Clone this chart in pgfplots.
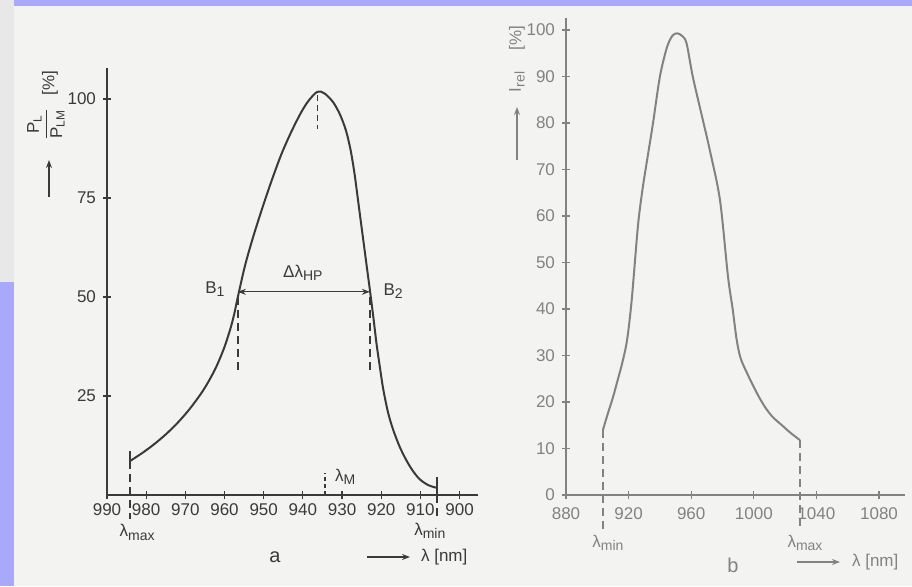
\documentclass[border=0pt]{standalone}
\usepackage{fontspec}
\setmainfont{Liberation Sans}
\usepackage{amsmath}
\usepackage{pgfplots}
\pgfplotsset{compat=1.18}
\usetikzlibrary{arrows.meta}
\definecolor{bg}{HTML}{F3F3F1}
\definecolor{lav}{HTML}{A9A9FC}
\definecolor{inkA}{HTML}{3A3A3A}
\definecolor{inkB}{HTML}{828282}
\newcommand{\tf}{\fontsize{8.5}{10}\selectfont}
\newcommand{\sub}[1]{\raisebox{-0.4ex}{\fontsize{7}{8}\selectfont #1}}
\begin{document}
\begin{tikzpicture}[font=\tf]
\begin{scope}[x=0.5pt,y=-0.5pt]
\path[use as bounding box, fill=bg] (0,0) rectangle (912,586);
\fill[lav] (14,0) rectangle (912,6);
\fill[black!9] (0,0) rectangle (14,282);
\fill[lav] (0,282) rectangle (14,586);
\end{scope}

% ---------------- chart a ----------------
\begin{axis}[
  at={(53.5pt,-247.5pt)}, anchor=south west,
  scale only axis, width=185.5pt, height=213.5pt,
  xmin=-990, xmax=-895.3, ymin=0, ymax=107.8,
  axis x line*=bottom, axis y line*=left,
  xtick={-990,-980,-970,-960,-950,-940,-930,-920,-910,-900},
  xticklabels={990,980,970,960,950,940,930,920,910,900},
  ytick={25,50,75,100},
  tick align=center, major tick length=4pt,
  axis line style={inkA, line width=0.7pt},
  tick style={inkA, line width=0.6pt},
  ticklabel style={inkA, font=\tf},
  xticklabel style={yshift=1pt},
  /pgf/number format/assume math mode=true,
  clip=false,
]
\addplot[inkA, line width=1pt, smooth, tension=0.5] table[x expr=-\thisrow{lam}, y=val] {
lam val
984.1 8.6
981 10.6
978 12.8
975 15.3
972 18.2
969 21.6
966 25.6
964 28.8
962 32.6
960 37.4
958.5 42.0
957.5 45.8
956.6 50.0
954.8 57.8
952.8 64.8
950.5 72.0
948 79.3
945.5 86.0
943 91.6
940.5 96.5
938.5 99.6
936.3 101.8
934.5 101.4
932.3 99.2
930.5 96
929 92
927.8 87
926.8 81
925.8 73.5
924.8 66
923.8 58.5
922.9 51.8
922.0 44.8
921.2 38.2
920.3 32.0
919.5 26.8
918.3 21.0
917.0 16.6
915.3 12.2
913.6 8.8
912 6.2
910.2 4.0
908 2.5
905.8 1.8
};
% end ticks of the curve
\addplot[inkA, line width=0.9pt] table[x expr=-\thisrow{lam}, y=val] {
lam val
984.1 8.6
984.1 11.2
};
\addplot[inkA, line width=0.9pt] table[x expr=-\thisrow{lam}, y=val] {
lam val
905.8 0
905.8 4.5
};
% dashed markers
\addplot[inkA, line width=0.7pt, dash pattern=on 4pt off 2.5pt] table[x expr=-\thisrow{lam}, y=val] {
lam val
984.1 8.6
984.1 -6
};
\addplot[inkA, line width=0.7pt, dash pattern=on 4pt off 2.5pt] table[x expr=-\thisrow{lam}, y=val] {
lam val
905.8 0
905.8 -6.5
};
\addplot[inkA, line width=0.7pt, dash pattern=on 4pt off 2.5pt] table[x expr=-\thisrow{lam}, y=val] {
lam val
956.6 50
956.6 31.5
};
\addplot[inkA, line width=0.7pt, dash pattern=on 4pt off 2.5pt] table[x expr=-\thisrow{lam}, y=val] {
lam val
922.9 50
922.9 31
};
\addplot[inkA, line width=0.7pt, dash pattern=on 3pt off 2pt] table[x expr=-\thisrow{lam}, y=val] {
lam val
936.3 101
936.3 92.5
};
\addplot[inkA, line width=0.7pt, dash pattern=on 2pt off 1.5pt] table[x expr=-\thisrow{lam}, y=val] {
lam val
934.4 0
934.4 5.5
};
\draw[inkA, line width=0.6pt, {Stealth[length=4pt,width=3pt]}-{Stealth[length=4pt,width=3pt]}]
  (axis cs:-956.6,51.3) -- (axis cs:-922.9,51.3);
\node[inkA, anchor=south] at (axis cs:-940,52.3) {Δλ\sub{HP}};
\node[inkA, anchor=east] at (axis cs:-958.2,52) {B\sub{1}};
\node[inkA, anchor=west] at (axis cs:-921.2,51.5) {B\sub{2}};
\node[inkA, anchor=west] at (axis cs:-933.6,4.6) {λ\sub{M}};
\node[inkA] at (axis cs:-982.3,-9.4) {λ\sub{max}};
\node[inkA] at (axis cs:-907.6,-9.0) {λ\sub{min}};
\end{axis}

% ---------------- chart b ----------------
\begin{axis}[
  at={(283pt,-247.5pt)}, anchor=south west,
  scale only axis, width=169.5pt, height=238.5pt,
  xmin=880, xmax=1096.6, ymin=0, ymax=102.6,
  axis x line*=bottom, axis y line*=left,
  xtick={880,920,960,1000,1040,1080},
  ytick={0,10,20,30,40,50,60,70,80,90,100},
  tick align=center, major tick length=4pt,
  axis line style={inkB, line width=0.7pt},
  tick style={inkB, line width=0.6pt},
  ticklabel style={inkB, font=\tf},
  xticklabel style={yshift=-1pt},
  /pgf/number format/1000 sep={},
  /pgf/number format/assume math mode=true,
  clip=false,
]
\addplot[inkB, line width=1pt, smooth, tension=0.5] table[x=lam, y=val] {
lam val
903.6 14
906.8 17.6
910 21
913 24.7
916 28.5
919 33.3
922 42
926 58
929 66
931.8 72
935.6 80
940 90
944.5 96.3
948 98.8
951 99.3
954 98.8
957 97.2
961 90
967 81.3
972 74
978.4 63.4
983.5 47
986.5 40
989 33.5
991.5 29.5
995.7 26.2
1002 21.9
1007 19
1012 16.8
1018 15
1023 13.5
1029.5 11.8
};
\addplot[inkB, line width=0.7pt, dash pattern=on 4pt off 2.5pt] table[x=lam, y=val] {
lam val
903.6 14
903.6 -7.5
};
\addplot[inkB, line width=0.7pt, dash pattern=on 4pt off 2.5pt] table[x=lam, y=val] {
lam val
1029.5 11.8
1029.5 -7
};
\node[inkB] at (axis cs:906.8,-10.3) {λ\sub{min}};
\node[inkB] at (axis cs:1032.7,-10.3) {λ\sub{max}};
\end{axis}

% ---------------- outer labels ----------------
\begin{scope}[x=0.5pt,y=-0.5pt]
% chart a
\draw[inkA, line width=0.6pt, -{Stealth[length=4pt,width=3pt]}] (49,197) -- (49,160);
\node[inkA, rotate=90] at (46,124) {$\dfrac{\text{P}_{\text{L}}}{\text{P}_{\text{LM}}}$};
\node[inkA, rotate=90] at (50,83) {[\%]};
\draw[inkA, line width=0.6pt, -{Stealth[length=4pt,width=3pt]}] (367,557) -- (410,557);
\node[inkA, anchor=west] at (414,557) {λ [nm]};
\node[inkA, font=\fontsize{10}{12}\selectfont] at (275,557) {a};
% chart b
\draw[inkB, line width=0.6pt, -{Stealth[length=4pt,width=3pt]}] (517,160) -- (517,107);
\node[inkB, rotate=90] at (517,82) {I\sub{rel}};
\node[inkB, rotate=90] at (517,38) {[\%]};
\draw[inkB, line width=0.6pt, -{Stealth[length=4pt,width=3pt]}] (797,562) -- (840,562);
\node[inkB, anchor=west] at (845,562) {λ [nm]};
\node[inkB, font=\fontsize{10}{12}\selectfont] at (733,565) {b};
\end{scope}
\end{tikzpicture}
\end{document}
